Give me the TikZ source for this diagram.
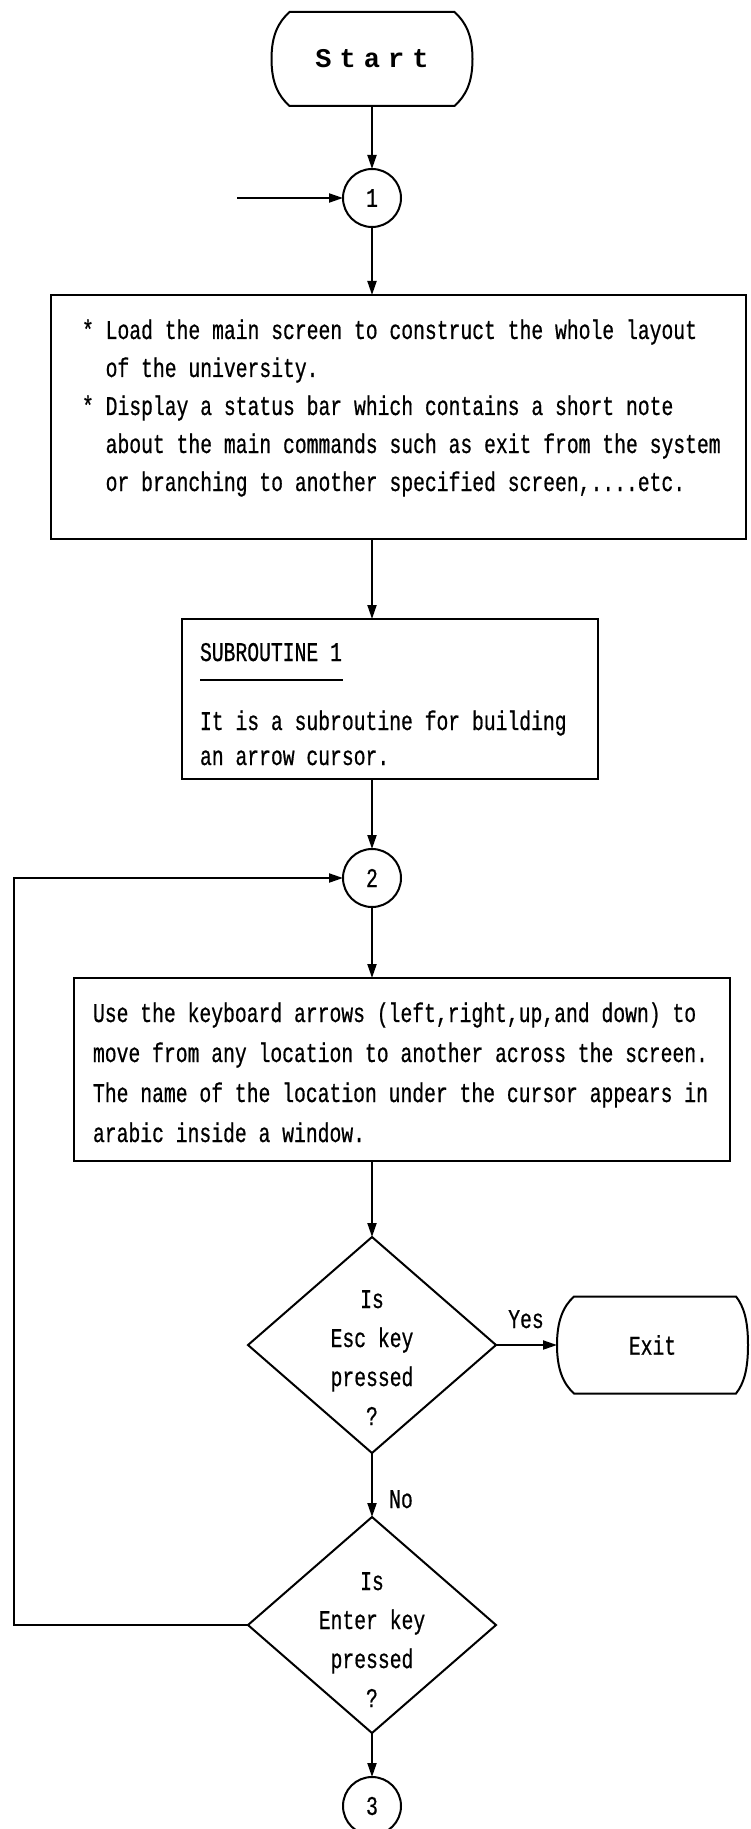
\documentclass[tikz,border=0pt]{standalone}
\usepackage{fontspec}
\usetikzlibrary{shapes.geometric,arrows.meta,calc}
\newfontfamily\dotfont[FakeStretch=0.73,FakeBold=0.6]{Liberation Mono}
\newfontfamily\startfont[LetterSpace=30]{Liberation Mono}
\tikzset{
  every node/.style={inner sep=0pt, outer sep=0pt},
  ln/.style={line width=1pt},
  arr/.style={ln, -{Triangle[length=7pt,width=4.5pt]}},
  boxnode/.style={draw, ln, rectangle},
  conn/.style={draw, ln, circle, minimum size=29pt, font=\dotfont\fontsize{13.5pt}{16pt}\selectfont},
  decision/.style={draw, ln, diamond, minimum width=124pt, minimum height=108pt},
  txt/.style={font=\dotfont\fontsize{13.5pt}{19pt}\selectfont},
}
\begin{document}
\begin{tikzpicture}[x=0.5pt,y=-0.5pt]
\useasboundingbox (0,0) rectangle (750,1829);
\fill[white] (0,0) rectangle (750,1829);

% Start terminal
\node[minimum width=100.5pt, minimum height=47pt] (start) at (372,59)
  {\startfont\bfseries\fontsize{13.5pt}{16pt}\selectfont Start};
\draw[ln] ($(start.north west)+(18,0)$) -- ($(start.north east)+(-18,0)$)
  .. controls ($(start.north east)+(-7,10)$) and ($(start.east)+(0,-24)$) .. (start.east)
  .. controls ($(start.east)+(0,24)$) and ($(start.south east)+(-7,-10)$) .. ($(start.south east)+(-18,0)$)
  -- ($(start.south west)+(18,0)$)
  .. controls ($(start.south west)+(7,-10)$) and ($(start.west)+(0,24)$) .. (start.west)
  .. controls ($(start.west)+(0,-24)$) and ($(start.north west)+(7,10)$) .. cycle;

% connector 1
\node[conn] (c1) at (372,198) {1};
\coordinate (in1) at (237,198);
\draw[arr] (in1) -- (c1);
\draw[arr] (start) -- (c1);

% Box 1
\node[boxnode, minimum width=347.5pt, minimum height=122pt] (b1) at (398.5,417) {};
\draw[arr] (c1) -- (c1 |- b1.north);
\node[txt, anchor=base west] (b1t) at (82,339) {\parbox[t]{340pt}{\raggedright
{}* Load the main screen to construct the whole layout\\
{}\hphantom{* }of the university.\\
{}* Display a status bar which contains a short note\\
{}\hphantom{* }about the main commands such as exit from the system\\
{}\hphantom{* }or branching to another specified screen,....etc.}};

% Subroutine box
\node[boxnode, minimum width=208pt, minimum height=80pt] (sub) at (390,699) {};
\draw[arr] (b1.south -| c1) -- (c1 |- sub.north);
\node[txt, anchor=base west] (subh) at (200,661) {SUBROUTINE 1};
\draw[ln] ($(subh.base west)+(0,19)$) -- ($(subh.base east)+(1,19)$);
\node[txt, anchor=base west, font=\dotfont\fontsize{13.5pt}{17.5pt}\selectfont] (subt) at (200,730)
  {\parbox[t]{250pt}{\raggedright It is a subroutine for building\\an arrow cursor.}};

% connector 2
\node[conn] (c2) at (372,878) {2};
\draw[arr] (sub.south -| c2) -- (c2);

% Box 3
\node[boxnode, minimum width=328pt, minimum height=91.5pt] (b3) at (402,1069.5) {};
\draw[arr] (c2) -- (c2 |- b3.north);
\node[txt, anchor=base west, font=\dotfont\fontsize{13.5pt}{20pt}\selectfont] (b3t) at (93,1022)
  {\parbox[t]{340pt}{\raggedright
Use the keyboard arrows (left,right,up,and down) to\\
move from any location to another across the screen.\\
The name of the location under the cursor appears in\\
arabic inside a window.}};

% Decision 1
\node[decision] (q1) at (372,1345) {};
\draw[arr] (b3.south -| q1) -- (q1);
\node[txt, anchor=base, font=\dotfont\fontsize{13.5pt}{19.5pt}\selectfont] (q1t) at (372,1308)
  {\parbox[t]{100pt}{\centering Is\\Esc key\\pressed\\?}};

% Exit terminal
\node[txt, minimum width=95.5pt, minimum height=48.5pt] (exit) at (652.5,1345) {Exit};
\draw[ln] ($(exit.north west)+(17,0)$) -- ($(exit.north east)+(-12,0)$)
  .. controls ($(exit.north east)+(-4,10)$) and ($(exit.east)+(0,-24)$) .. (exit.east)
  .. controls ($(exit.east)+(0,24)$) and ($(exit.south east)+(-4,-10)$) .. ($(exit.south east)+(-12,0)$)
  -- ($(exit.south west)+(17,0)$)
  .. controls ($(exit.south west)+(6,-10)$) and ($(exit.west)+(0,24)$) .. (exit.west)
  .. controls ($(exit.west)+(0,-24)$) and ($(exit.north west)+(6,10)$) .. cycle;
\draw[arr] (q1) -- (exit);
\node[txt, anchor=base] (yes) at (526,1328) {Yes};

% Decision 2
\node[decision] (q2) at (372,1625) {};
\draw[arr] (q1) -- (q2);
\node[txt, anchor=base] (no) at (401,1508) {No};
\node[txt, anchor=base, font=\dotfont\fontsize{13.5pt}{19.5pt}\selectfont] (q2t) at (372,1590)
  {\parbox[t]{100pt}{\centering Is\\Enter key\\pressed\\?}};

% connector 3
\node[conn] (c3) at (372,1806) {3};
\draw[arr] (q2) -- (c3);

% loop back
\coordinate (lp) at (14,878);
\draw[arr] (q2.west) -| (lp) -- (c2);
\end{tikzpicture}
\end{document}
